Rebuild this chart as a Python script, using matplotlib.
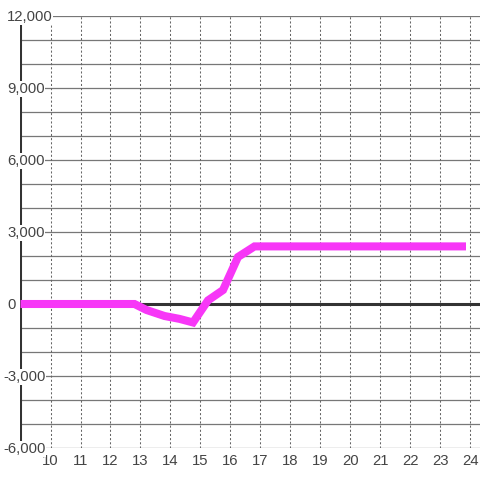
import matplotlib
matplotlib.use("Agg")
import matplotlib.pyplot as plt
import matplotlib.transforms as mtransforms

# ---------- Données ----------
hours = [9.0, 12.8, 13.2, 13.8, 14.3, 14.75, 15.25, 15.75, 16.25, 16.8, 23.85]
values = [0, 0, -250, -500, -620, -770, 150, 580, 1960, 2400, 2400]
x_ticks = list(range(10, 25))
y_ticks = [12000, 9000, 6000, 3000, 0, -3000, -6000]
y_grid = list(range(-6000, 12001, 1000))

plt.rcParams['font.family'] = ['Liberation Sans', 'DejaVu Sans']

fig = plt.figure(figsize=(4.8, 4.8), dpi=100)
ax = fig.add_axes([20/480, 32/480, 460/480, 432/480])
x0 = 10 - 30.5/30
ax.set_xlim(x0, x0 + 460/30)
ax.set_ylim(-6000, 12000)
for s in ax.spines.values():
    s.set_visible(False)
ax.set_xticks([])
ax.set_yticks([])

# grille
for y in y_grid:
    ax.axhline(y, color='#777777', lw=0.9, zorder=1)
for x in x_ticks:
    ax.axvline(x, color='#666666', lw=0.75, ls=(0, (2, 2)), zorder=1)

# axes épais
ax.axvline(x0, color='#333333', lw=2.2, zorder=2)
ax.axhline(0, color='#333333', lw=2.2, zorder=2)

# courbe
ax.plot(hours, values, color='#f737f7', lw=5.8, solid_joinstyle='miter',
        solid_capstyle='butt', zorder=3, clip_on=False)

# étiquettes
tr = mtransforms.blended_transform_factory(fig.transFigure, ax.transData)
tr = tr + mtransforms.ScaledTranslation(0, -1/100, fig.dpi_scale_trans)
for v in y_ticks:
    px = 7 if v >= 0 else 3
    ax.text(px/480, v, f"{v:,}", transform=tr, ha='left', va='center',
            fontsize=10.7, color='#444444', zorder=4,
            bbox=dict(facecolor='white', edgecolor='none', pad=0.5))
trx = mtransforms.blended_transform_factory(ax.transData, fig.transFigure)
for x in x_ticks:
    ax.text(x, 1 - 461/480, str(x), transform=trx, ha='center', va='center',
            fontsize=10.7, color='#444444')

fig.savefig("out.png", dpi=100, facecolor='white')
